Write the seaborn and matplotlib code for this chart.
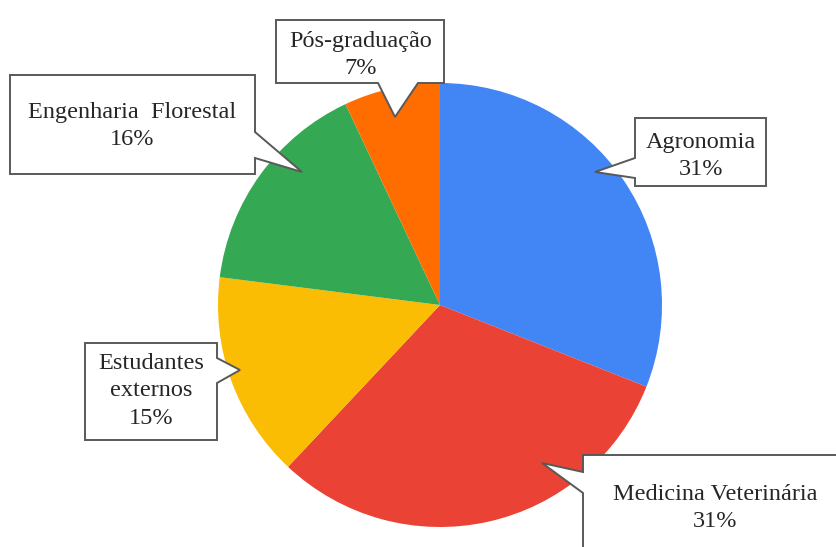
import matplotlib
matplotlib.use("Agg")
import matplotlib.pyplot as plt
import seaborn as sns
from matplotlib.patches import Polygon

# ---- data ----
categories = ['Agronomia', 'Medicina Veterinária', 'Estudantes\nexternos',
              'Engenharia  Florestal', 'Pós-graduação']
shares = [31, 31, 15, 16, 7]
slice_colors = ['#4285F4', '#EA4335', '#FBBC04', '#34A853', '#FF6D01']

# ---- callout layout (pixel coords, y down) ----
# box (x0, y0, x1, y1), pointer side, pointer base (a, b), tip (x, y)
callouts = [
    dict(box=(635, 118, 766, 186), side='left', base=(158, 178), tip=(595, 172)),
    dict(box=(583, 455, 860, 570), side='left', base=(472, 493), tip=(542, 463)),
    dict(box=(85, 343, 217, 440), side='right', base=(358, 383), tip=(240, 370)),
    dict(box=(10, 75, 255, 174), side='right', base=(132, 158), tip=(302, 172)),
    dict(box=(276, 20, 444, 83), side='bottom', base=(378, 418), tip=(395, 117)),
]
text_pos = [(701, 156), (715, 508), (151, 391), (132, 126), (361, 55)]

W, H = 836, 547

sns.set_theme(style='white')
plt.rcParams['font.family'] = ['Liberation Serif', 'DejaVu Serif']

fig = plt.figure(figsize=(W / 100, H / 100), dpi=100)
ax = fig.add_axes([0, 0, 1, 1])

ax.pie(shares, colors=slice_colors, startangle=90, counterclock=False,
       center=(440, H - 305), radius=222, wedgeprops=dict(linewidth=0))
ax.set_xlim(0, W)
ax.set_ylim(0, H)
ax.set_aspect('equal')
ax.axis('off')


def callout_points(box, side, base, tip):
    x0, y0, x1, y1 = box
    a, b = base
    pts = [(x0, y0)]
    if side == 'top':
        pts += [(min(a, b), y0), tip, (max(a, b), y0)]
    pts.append((x1, y0))
    if side == 'right':
        pts += [(x1, min(a, b)), tip, (x1, max(a, b))]
    pts.append((x1, y1))
    if side == 'bottom':
        pts += [(max(a, b), y1), tip, (min(a, b), y1)]
    pts.append((x0, y1))
    if side == 'left':
        pts += [(x0, max(a, b)), tip, (x0, min(a, b))]
    return [(px, H - py) for px, py in pts]


for cat, share, co, (tx, ty) in zip(categories, shares, callouts, text_pos):
    poly = Polygon(callout_points(**co), closed=True, facecolor='white',
                   edgecolor='#595959', linewidth=1.4, zorder=3)
    ax.add_patch(poly)
    ax.text(tx, H - ty, f"{cat}\n{share}%", ha='center', va='center',
            fontsize=17.5, color='#262626', linespacing=1.4, zorder=4)

fig.savefig('out.png', dpi=100)
